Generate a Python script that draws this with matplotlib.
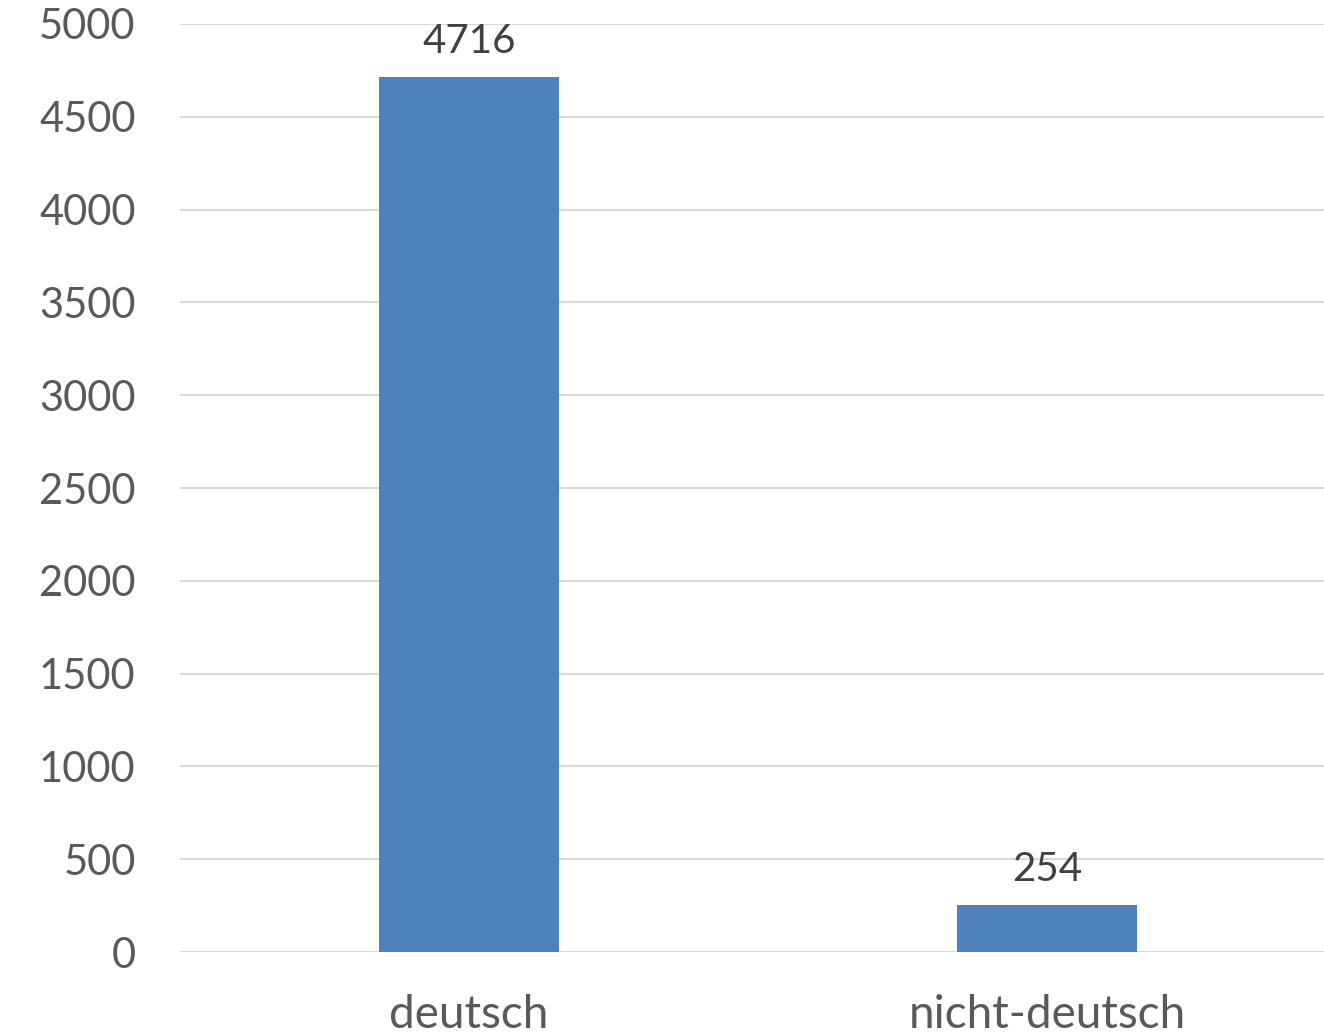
import matplotlib
matplotlib.use("Agg")
import matplotlib.pyplot as plt
import numpy as np

categories = ["deutsch", "nicht-deutsch"]
values = [4716, 254]
yticks = [0, 500, 1000, 1500, 2000, 2500, 3000, 3500, 4000, 4500, 5000]

plt.rcParams["font.family"] = ["Lato", "DejaVu Sans"]

fig = plt.figure(figsize=(13.24, 10.35), dpi=100)
ax = fig.add_axes([180 / 1324, 83 / 1035, 1156 / 1324, 928 / 1035])

x = np.arange(len(categories))
bars = ax.bar(x, values, width=0.313, color="#4f81bd", zorder=3)

for b, v in zip(bars, values):
    ax.annotate(str(v), (b.get_x() + b.get_width() / 2, v),
                xytext=(0, 12), textcoords="offset points",
                ha="center", va="bottom", fontsize=29, color="#404040")

ax.set_xlim(-0.5, 1.5)
ax.set_ylim(0, 5000)
ax.set_yticks(yticks)
ax.set_xticks(x)
ax.set_xticklabels(categories)

ax.grid(axis="y", color="#d9d9d9", linewidth=1.5, zorder=0)
for s in ax.spines.values():
    s.set_visible(False)
ax.tick_params(axis="both", length=0, labelcolor="#595959")
ax.tick_params(axis="y", pad=32, labelsize=30)
ax.tick_params(axis="x", pad=30, labelsize=33)

fig.savefig("out.png", dpi=100)
